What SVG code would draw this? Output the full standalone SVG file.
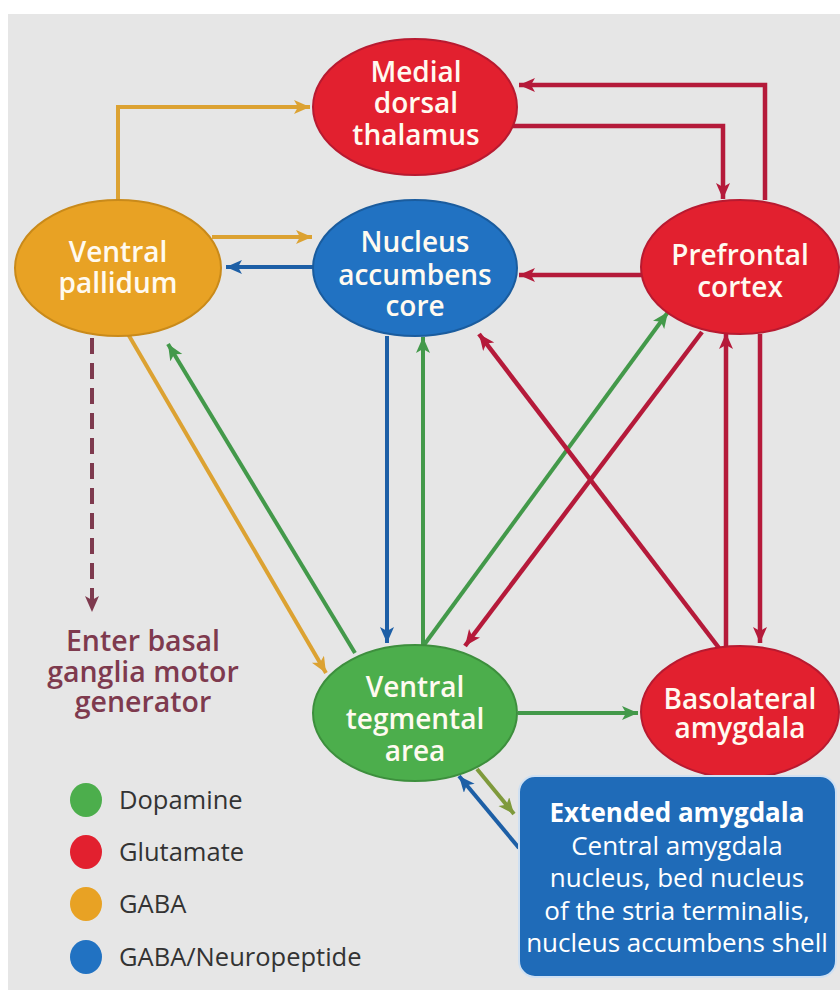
<svg xmlns="http://www.w3.org/2000/svg" width="840" height="990" viewBox="0 0 840 990">
<style>
.nt{font-family:"Open Sans","Liberation Sans",sans-serif;font-weight:600;font-size:28px;fill:#fffaf0;text-anchor:middle}
.lg{font-family:"Open Sans","Liberation Sans",sans-serif;font-size:25.5px;fill:#333}
.ea{font-family:"Open Sans","Liberation Sans",sans-serif;font-size:26px;fill:#fff;text-anchor:middle}
.mot{font-family:"Open Sans","Liberation Sans",sans-serif;font-weight:600;font-size:28.5px;fill:#7e3a4e;text-anchor:middle}
.red{stroke:#b51a3a;stroke-width:4.5;fill:none}
.grn{stroke:#43994a;stroke-width:4;fill:none}
.org{stroke:#dca232;stroke-width:4;fill:none}
.blu{stroke:#1d5fa6;stroke-width:4;fill:none}
</style>
<defs>
<marker id="mr" markerUnits="userSpaceOnUse" markerWidth="20" markerHeight="16" refX="16" refY="7" orient="auto"><path d="M0,0 L16,7 L0,14 L4,7 Z" fill="#b51a3a"/></marker>
<marker id="mg" markerUnits="userSpaceOnUse" markerWidth="20" markerHeight="16" refX="16" refY="7" orient="auto"><path d="M0,0 L16,7 L0,14 L4,7 Z" fill="#43994a"/></marker>
<marker id="mo" markerUnits="userSpaceOnUse" markerWidth="20" markerHeight="16" refX="16" refY="7" orient="auto"><path d="M0,0 L16,7 L0,14 L4,7 Z" fill="#dca232"/></marker>
<marker id="mb" markerUnits="userSpaceOnUse" markerWidth="20" markerHeight="16" refX="16" refY="7" orient="auto"><path d="M0,0 L16,7 L0,14 L4,7 Z" fill="#1d5fa6"/></marker>
<marker id="mol" markerUnits="userSpaceOnUse" markerWidth="20" markerHeight="16" refX="16" refY="7" orient="auto"><path d="M0,0 L16,7 L0,14 L4,7 Z" fill="#7f9a3c"/></marker>
<marker id="mm" markerUnits="userSpaceOnUse" markerWidth="20" markerHeight="16" refX="16" refY="7" orient="auto"><path d="M0,0 L16,7 L0,14 L4,7 Z" fill="#7e3a4e"/></marker>
</defs>
<rect x="0" y="0" width="840" height="990" fill="#ffffff"/>
<rect x="8" y="14" width="832" height="976" fill="#e6e6e6"/>

<g id="connectors">
<path class="org" d="M118,200 V107 H310" marker-end="url(#mo)"/>
<path class="red" d="M512,126 H723 V199" marker-end="url(#mr)"/>
<path class="red" d="M765,200 V85 H519" marker-end="url(#mr)"/>
<path class="org" d="M212,237 H312" marker-end="url(#mo)"/>
<path class="blu" d="M313,267 H226" marker-end="url(#mb)"/>
<path class="red" d="M642,275 H519" marker-end="url(#mr)"/>
<path d="M92,338 V612" stroke="#7e3a4e" stroke-width="4" stroke-dasharray="16,9" fill="none" marker-end="url(#mm)"/>
<path class="org" d="M128,334 L326,673" marker-end="url(#mo)"/>
<path class="grn" d="M355,653 L168,344" marker-end="url(#mg)"/>
<path class="blu" d="M387,336 V643" marker-end="url(#mb)"/>
<path class="grn" d="M423,645 V337" marker-end="url(#mg)"/>
<path class="grn" d="M424,645 L668,312" marker-end="url(#mg)"/>
<path class="red" d="M702,332 L465,646" marker-end="url(#mr)"/>
<path class="red" d="M719,648 L479,334" marker-end="url(#mr)"/>
<path class="red" d="M726,648 V333" marker-end="url(#mr)"/>
<path class="red" d="M760,334 V643" marker-end="url(#mr)"/>
<path class="grn" d="M518,713 H638" marker-end="url(#mg)"/>
<path d="M477,769 L514,814" stroke="#7f9a3c" stroke-width="4" fill="none" marker-end="url(#mol)"/>
<path class="blu" d="M519,848 L459,776" marker-end="url(#mb)"/>
</g>

<g id="mdt">
<ellipse cx="415" cy="107" rx="102" ry="68" fill="#e2202f" stroke="#b81a30" stroke-width="2"/>
<text class="nt" x="416" y="82">Medial</text>
<text class="nt" x="416" y="113">dorsal</text>
<text class="nt" x="416" y="145">thalamus</text>
</g>
<g id="vp">
<ellipse cx="118" cy="268" rx="103" ry="68" fill="#e8a224" stroke="#c98a1a" stroke-width="2"/>
<text class="nt" x="118" y="262">Ventral</text>
<text class="nt" x="118" y="293">pallidum</text>
</g>
<g id="nac">
<ellipse cx="415" cy="268" rx="102" ry="68" fill="#2172c2" stroke="#1a5c9e" stroke-width="2"/>
<text class="nt" x="415" y="252">Nucleus</text>
<text class="nt" x="415" y="285">accumbens</text>
<text class="nt" x="415" y="316">core</text>
</g>
<g id="pfc">
<ellipse cx="740" cy="267" rx="99" ry="67" fill="#e2202f" stroke="#b81a30" stroke-width="2"/>
<text class="nt" x="740" y="265">Prefrontal</text>
<text class="nt" x="740" y="297">cortex</text>
</g>
<g id="vta">
<ellipse cx="415" cy="713" rx="102" ry="68" fill="#4cae4c" stroke="#3d8f3d" stroke-width="2"/>
<text class="nt" x="415" y="697">Ventral</text>
<text class="nt" x="415" y="729">tegmental</text>
<text class="nt" x="415" y="761">area</text>
</g>
<g id="bla">
<ellipse cx="740" cy="712" rx="99" ry="66" fill="#e2202f" stroke="#b81a30" stroke-width="2"/>
<text class="nt" x="740" y="709">Basolateral</text>
<text class="nt" x="740" y="738">amygdala</text>
</g>
<g id="ea">
<rect x="519" y="776" width="317" height="201" rx="16" fill="#1f6bb8" stroke="#cfe0f2" stroke-width="2"/>
<text class="ea" x="677" y="822" font-weight="700">Extended amygdala</text>
<text class="ea" x="677" y="855">Central amygdala</text>
<text class="ea" x="677" y="887">nucleus, bed nucleus</text>
<text class="ea" x="677" y="920">of the stria terminalis,</text>
<text class="ea" x="677" y="952">nucleus accumbens shell</text>
</g>
<g id="motor">
<text class="mot" x="143" y="651">Enter basal</text>
<text class="mot" x="143" y="682">ganglia motor</text>
<text class="mot" x="143" y="712">generator</text>
</g>
<g id="legend">
<ellipse cx="86" cy="800" rx="16" ry="17" fill="#4cae4c"/>
<text class="lg" x="119" y="809">Dopamine</text>
<ellipse cx="86" cy="852" rx="16" ry="17" fill="#e2202f"/>
<text class="lg" x="119" y="861">Glutamate</text>
<ellipse cx="86" cy="904" rx="16" ry="17" fill="#e8a224"/>
<text class="lg" x="119" y="913">GABA</text>
<ellipse cx="86" cy="957" rx="16" ry="17" fill="#2172c2"/>
<text class="lg" x="119" y="966">GABA/Neuropeptide</text>
</g>
</svg>
